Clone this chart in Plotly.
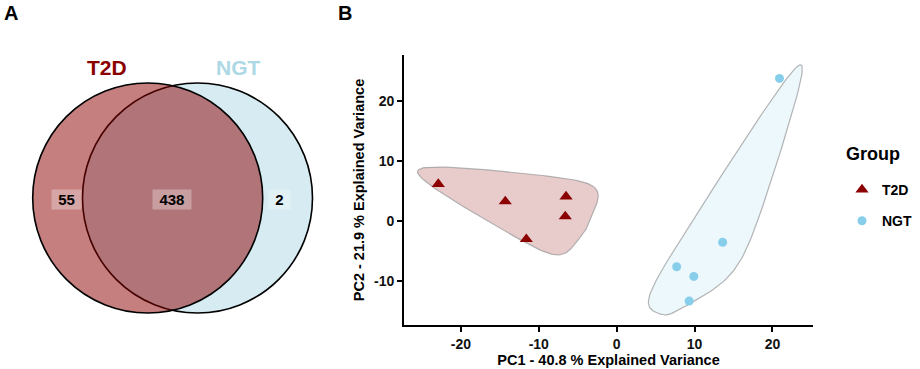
import numpy as np
import plotly.graph_objects as go

# ---------------- data ----------------
venn_sets = ["T2D", "NGT"]
venn_counts = [55, 438, 2]          # T2D only, shared, NGT only
venn_colors = ["#8B0000", "#ADD8E6"]

groups = ["T2D", "NGT"]
t2d_pc1 = [-22.9, -14.3, -6.5, -6.6, -11.6]
t2d_pc2 = [6.1, 3.2, 4.0, 0.7, -3.1]
ngt_pc1 = [7.7, 9.9, 9.3, 13.6, 20.9]
ngt_pc2 = [-7.7, -9.3, -13.4, -3.6, 23.7]
x_ticks = [-20, -10, 0, 10, 20]
y_ticks = [-10, 0, 10, 20]
x_title = "PC1 - 40.8 % Explained Variance"
y_title = "PC2 - 21.9 % Explained Variance"
legend_title = "Group"

# ---------------- layout constants ----------------
W, H = 920, 369
FONT = "Liberation Sans, Arial, sans-serif"
XR = [-27.3, 25.2]
YR = [-17.4, 27.6]
XDOM = [404 / W, 813 / W]
YDOM = [1 - 325 / H, 1 - 55 / H]


def px(x):
    return x / W


def py(y):
    return 1 - y / H


# ---------------- hull helpers (encircle-style) ----------------
def convex_hull(pts):
    pts = sorted(set(pts))
    if len(pts) <= 2:
        return pts

    def cross(o, a, b):
        return (a[0] - o[0]) * (b[1] - o[1]) - (a[1] - o[1]) * (b[0] - o[0])

    lower, upper = [], []
    for p in pts:
        while len(lower) >= 2 and cross(lower[-2], lower[-1], p) <= 0:
            lower.pop()
        lower.append(p)
    for p in reversed(pts):
        while len(upper) >= 2 and cross(upper[-2], upper[-1], p) <= 0:
            upper.pop()
        upper.append(p)
    return lower[:-1] + upper[:-1]


def g_blend(u, q):
    return u * (q + u * (2 * q + u * (10 - 12 * q - 2 + u * (4 + 14 * q - 15 + u * (6 - 5 * q - 2)))))


def h_blend(u, q):
    u2 = u * u
    return u * (q + u * (2 * q + u2 * (-2 * q - u * q)))


def xspline_closed(P, s=-0.5, steps=40):
    q = -s
    n = len(P)
    out = []
    for k in range(n):
        p0, p1, p2, p3 = P[(k - 1) % n], P[k], P[(k + 1) % n], P[(k + 2) % n]
        for t in np.linspace(0, 1, steps, endpoint=False):
            a0 = h_blend(-t, q)
            a2 = g_blend(t, q)
            a1 = g_blend(1 - t, q)
            a3 = h_blend(t - 1, q)
            w = a0 + a1 + a2 + a3
            x = (a0 * p0[0] + a1 * p1[0] + a2 * p2[0] + a3 * p3[0]) / w
            y = (a0 * p0[1] + a1 * p1[1] + a2 * p2[1] + a3 * p3[1]) / w
            out.append((x, y))
    out.append(out[0])
    return out


def encircle(xs, ys, expand=0.05):
    mx, my = np.mean(xs), np.mean(ys)
    hull = convex_hull(list(zip(xs, ys)))
    ex = expand * (XR[1] - XR[0])
    ey = expand * (YR[1] - YR[0])
    ctrl = [(x + np.sign(x - mx) * ex, y + np.sign(y - my) * ey) for x, y in hull]
    curve = xspline_closed(ctrl)
    return [c[0] for c in curve], [c[1] for c in curve]


fig = go.Figure()

# hulls
hx, hy = encircle(t2d_pc1, t2d_pc2)
fig.add_trace(go.Scatter(x=hx, y=hy, mode="lines", fill="toself",
                         fillcolor="rgba(139,0,0,0.2)",
                         line=dict(color="rgba(150,150,150,0.7)", width=1.2),
                         showlegend=False, hoverinfo="skip"))
hx, hy = encircle(ngt_pc1, ngt_pc2)
fig.add_trace(go.Scatter(x=hx, y=hy, mode="lines", fill="toself",
                         fillcolor="rgba(135,206,235,0.15)",
                         line=dict(color="rgba(150,150,150,0.7)", width=1.2),
                         showlegend=False, hoverinfo="skip"))

# points
fig.add_trace(go.Scatter(x=t2d_pc1, y=t2d_pc2, mode="markers", name=f"<b>{groups[0]}</b>",
                         legendgroup="a",
                         marker=dict(symbol="triangle-up", size=11.5, color="#8B0000")))
fig.add_trace(go.Scatter(x=ngt_pc1, y=ngt_pc2, mode="markers", name=f"<b>{groups[1]}</b>",
                         legendgroup="b",
                         marker=dict(symbol="circle", size=9, color="#87CEEB")))

axis_common = dict(showgrid=False, zeroline=False, showline=True, linecolor="black",
                   linewidth=1.8, ticks="outside", ticklen=5, tickwidth=1.5,
                   tickcolor="black", automargin=False,
                   tickfont=dict(family=FONT, size=14, color="#111111"))

fig.update_layout(
    width=W, height=H,
    margin=dict(l=0, r=0, t=0, b=0, pad=0),
    paper_bgcolor="white", plot_bgcolor="white",
    font=dict(family=FONT, color="black"),
    xaxis=dict(domain=XDOM, range=XR, tickvals=x_ticks,
               ticktext=[f"<b>{v}</b>" for v in x_ticks],
               title=dict(text=f"<b>{x_title}</b>", font=dict(family=FONT, size=14.5),
                          standoff=4),
               **axis_common),
    yaxis=dict(domain=YDOM, range=YR, tickvals=y_ticks,
               ticktext=[f"<b>{v}</b>" for v in y_ticks],
               title=dict(text=f"<b>{y_title}</b>", font=dict(family=FONT, size=14.5),
                          standoff=6),
               **axis_common),
    legend=dict(x=px(842), y=py(174), xanchor="left", yanchor="top",
                font=dict(family=FONT, size=14, color="black"),
                tracegroupgap=10, bgcolor="rgba(0,0,0,0)", borderwidth=0),
    showlegend=True,
)

# ---------------- Venn diagram (panel A) ----------------
R = 115
c_t2d = (147.7, 198)
c_ngt = (197.5, 198)
shapes = []
for (cx, cy), col in [(c_ngt, "rgba(173,216,230,0.5)"), (c_t2d, "rgba(139,0,0,0.5)")]:
    shapes.append(dict(type="circle", xref="paper", yref="paper",
                       x0=px(cx - R), x1=px(cx + R), y0=py(cy + R), y1=py(cy - R),
                       fillcolor=col, line=dict(color="black", width=1.6), layer="above"))
fig.update_layout(shapes=shapes)


def label(text, x, y, size, color="black", xanchor="center", **kw):
    return dict(text=text, x=px(x), y=py(y), xref="paper", yref="paper",
                xanchor=xanchor, yanchor="middle", showarrow=False,
                font=dict(family=FONT, size=size, color=color), **kw)


ann = [label(f"<b>{venn_sets[0]}</b>", 107, 67, 21, venn_colors[0]),
       label(f"<b>{venn_sets[1]}</b>", 238, 67, 21, venn_colors[1])]
for val, xx in zip(venn_counts, [66, 172, 279.5]):
    ann.append(label(f"<b>{val}</b>", xx, 199, 15,
                     bgcolor="rgba(255,255,255,0.3)", borderpad=1,
                     width=8.6 * len(str(val)) + 10))
ann.append(label("<b>A</b>", 10.5, 13, 20))
ann.append(label("<b>B</b>", 345, 13, 20))
ann.append(label(f"<b>{legend_title}</b>", 844, 154, 18, xanchor="left"))
fig.update_layout(annotations=ann)

fig.write_html("out.html", config={"displayModeBar": False},
               post_script="document.body.style.margin='0px';")
